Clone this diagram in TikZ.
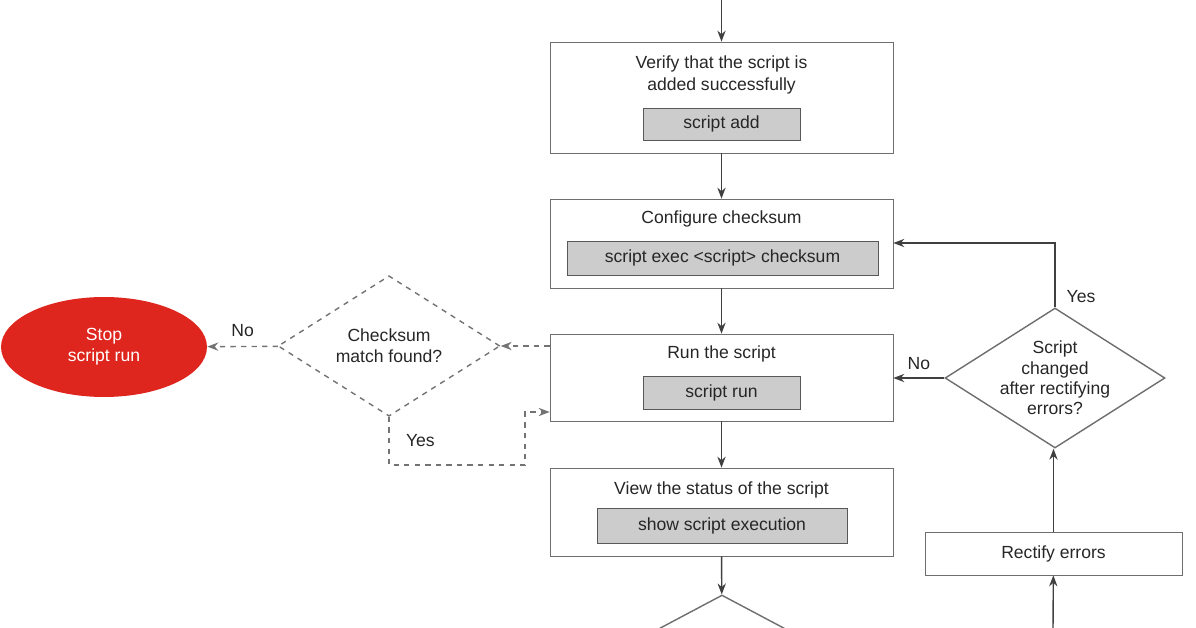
\documentclass[tikz,border=0pt]{standalone}
\usepackage{fontspec}
\setmainfont{Liberation Sans}
\usetikzlibrary{shapes.geometric,arrows.meta}
\definecolor{cmdgray}{RGB}{204,204,204}
\definecolor{stopred}{RGB}{222,38,30}
\definecolor{linegray}{RGB}{110,110,110}
\begin{document}
\begin{tikzpicture}[
		x=0.02cm, y=-0.02cm,
		every node/.style={font=\fontsize{10}{12}\selectfont, text=black!85},
		task/.style={rectangle, draw=linegray, minimum width=6.86cm, inner sep=0pt},
		cmd/.style={rectangle, draw=linegray!80!black, fill=cmdgray, inner sep=0pt},
		decision/.style={diamond, draw=linegray, thick, align=center, inner sep=0pt},
		flow/.style={-{Stealth[length=2.2mm]}, thick, black!75},
		dflow/.style={flow, dashed, gray!90!black}
	]
  \useasboundingbox (0,0) rectangle (1196,628);
  % main column
  \node (verify) [task, minimum height=2.22cm] at (721.5,97.5) {};
  \node [align=center] at (721.5,75) {Verify that the script is\\added successfully};
  \node (add) [cmd, minimum width=3.14cm, minimum height=0.64cm] at (721.5,124) {script add};
  \node (conf) [task, minimum height=1.78cm] at (721.5,243.5) {};
  \node at (721.5,219) {Configure checksum};
  \node (exec) [cmd, minimum width=6.22cm, minimum height=0.68cm] at (722.5,258) {script exec <script> checksum};
  \node (run) [task, minimum height=1.74cm] at (721.5,377.5) {};
  \node at (721.5,354) {Run the script};
  \node (srun) [cmd, minimum width=3.14cm, minimum height=0.66cm] at (721.5,392.5) {script run};
  \node (view) [task, minimum height=1.76cm] at (721.5,512) {};
  \node at (721.5,490) {View the status of the script};
  \node (show) [cmd, minimum width=5cm, minimum height=0.7cm] at (722,525.5) {show script execution};
  \node (next) [decision, minimum width=7cm, minimum height=3.72cm] at (722,688) {};
  \coordinate (top) at (721.5,0);
  \draw [flow] (top) -- (verify);
  \draw [flow] (verify) -- (conf);
  \draw [flow] (conf) -- (run);
  \draw [flow] (run) -- (view);
  \draw [flow] (view) -- (next);
  % right loop
  \node (fix) [rectangle, draw=linegray, minimum width=5.14cm, minimum height=0.86cm] at (1053.5,553.5) {Rectify errors};
  \node (changed) [decision, aspect=1.57, inner sep=-9pt, font=\fontsize{10}{11.5}\selectfont, minimum width=4.4cm, minimum height=2.8cm] at (1055,378) {Script\\changed\\after rectifying\\errors?};
  \coordinate (bottom) at (1053,628);
  \draw [flow] (bottom) -- (fix);
  \draw [flow] (fix.north) -- (fix.north |- changed.south);
  \draw [flow] (changed) -- node [above, yshift=1pt] {No} (run.east |- changed);
  \draw [flow] (changed.north) |- (conf.east |- 0,243);
  \node (yes_r) at (1081,297) {Yes};
  % checksum branch
  \node (match) [decision, dashed, gray!90!black, text=black!85, minimum width=4.44cm, minimum height=2.64cm] at (389,346) {Checksum\\match found?};
  \node (stop) [ellipse, fill=stopred, text=white, align=center, minimum width=4.12cm, minimum height=2cm, inner sep=0pt] at (104,347) {Stop\\script run};
  \draw [dflow] (run.west |- match) -- (match);
  \draw [dflow] (match) -- node [above, yshift=2pt] {No} (stop);
  \draw [dflow] (match.south) |- node [pos=0.25, right, xshift=6pt] {Yes} (525,465) -- (525,412) -- (run.west |- 0,412);
\end{tikzpicture}
\end{document}
